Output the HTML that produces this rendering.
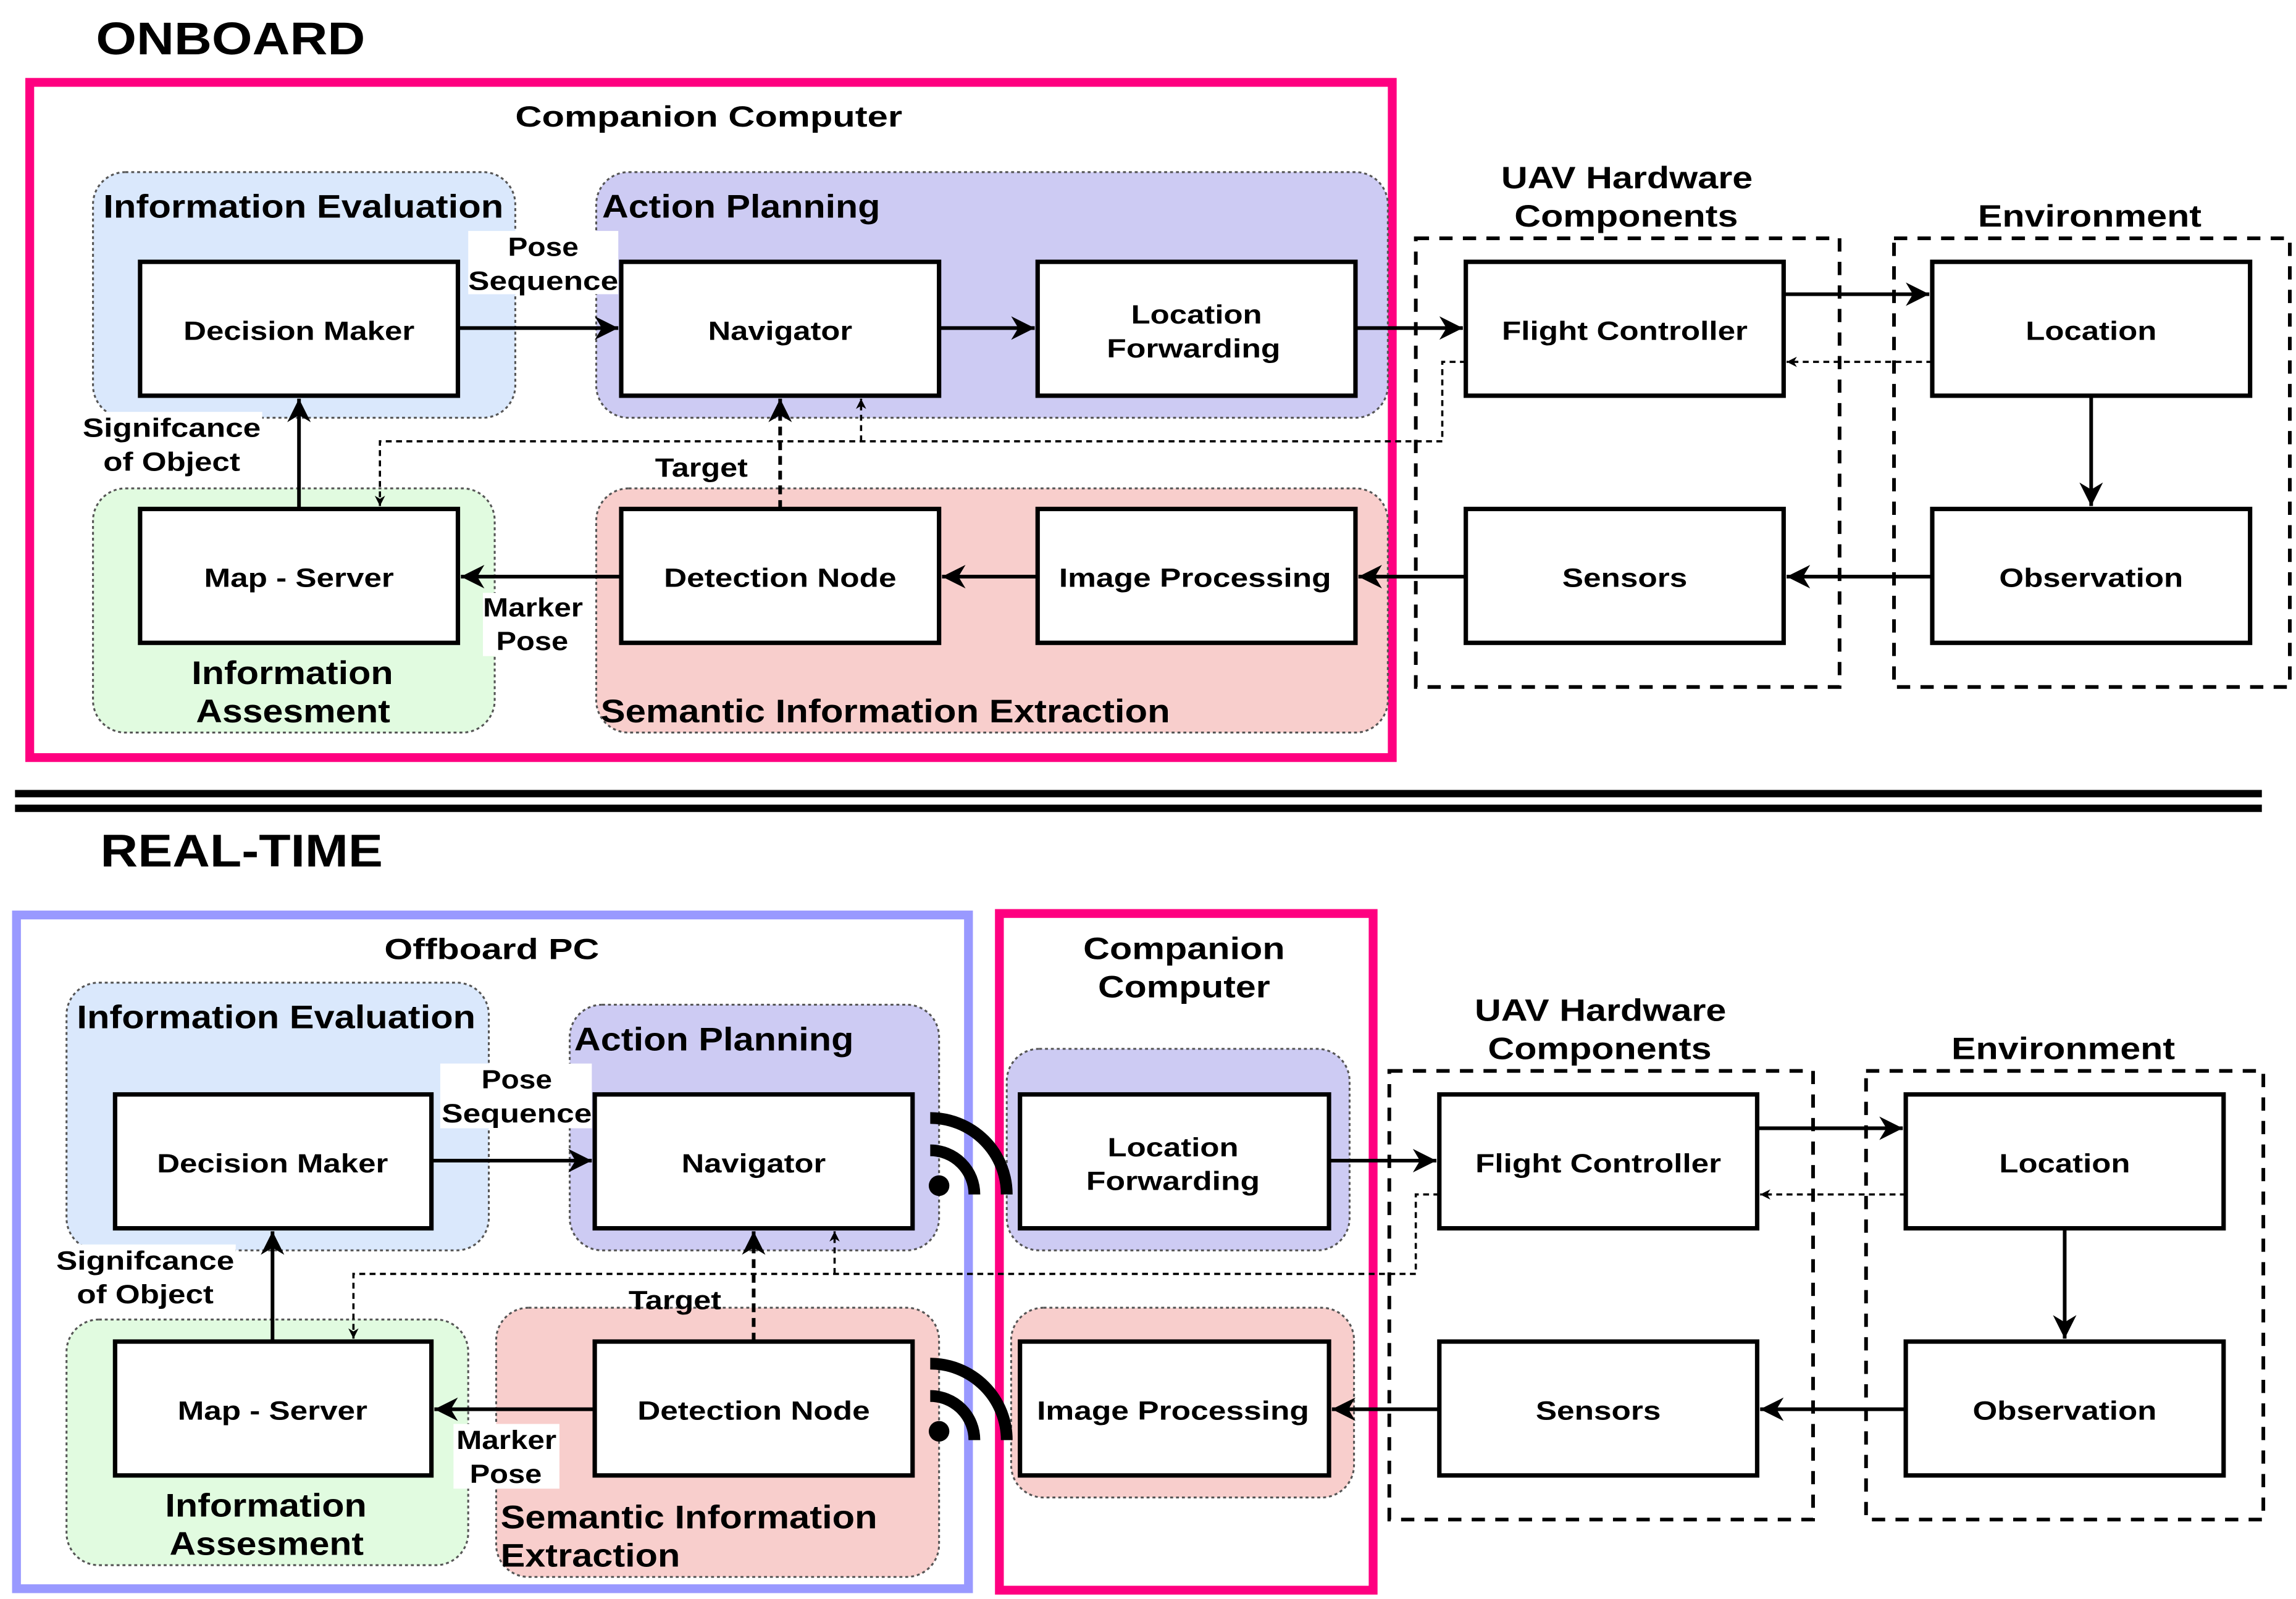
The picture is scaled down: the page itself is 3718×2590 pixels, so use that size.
<!DOCTYPE html>
<html><head><meta charset="utf-8"><style>html,body{margin:0;padding:0;background:#fff}svg{display:block}text{font-family:"Liberation Sans",sans-serif;font-weight:bold;fill:#000}</style></head>
<body>
<svg xmlns="http://www.w3.org/2000/svg" width="3718" height="2590" viewBox="0 0 1560 1087">
<defs>
<marker id="a" viewBox="0 0 10 10" refX="10" refY="5" markerWidth="7" markerHeight="7" orient="auto" markerUnits="userSpaceOnUse"><path d="M0,0 L10,5 L0,10 L3,5 z" fill="#000"/></marker>
<marker id="A" viewBox="0 0 10 10" refX="10" refY="5" markerWidth="16" markerHeight="16" orient="auto" markerUnits="userSpaceOnUse"><path d="M0,0 L10,5 L0,10 L3,5 z" fill="#000"/></marker>
</defs>
<rect width="1560" height="1087" fill="#fff"/>

<!-- ================= ONBOARD ================= -->
<text x="65" y="37" font-size="31" textLength="183" lengthAdjust="spacingAndGlyphs">ONBOARD</text>
<rect x="20" y="56" width="926" height="459" fill="none" stroke="#ff0080" stroke-width="6"/>
<text x="350" y="86" font-size="20" textLength="263" lengthAdjust="spacingAndGlyphs">Companion Computer</text>

<g stroke="#555" stroke-width="1.3" stroke-dasharray="2,2">
<rect x="63" y="117" width="287" height="167" rx="22" fill="#dae8fc"/>
<rect x="405" y="117" width="538" height="167" rx="22" fill="#cdcbf3"/>
<rect x="63" y="332" width="273" height="166" rx="22" fill="#e1fbe0"/>
<rect x="405" y="332" width="538" height="166" rx="22" fill="#f8cecc"/>
</g>
<text x="70" y="148" font-size="22" textLength="272" lengthAdjust="spacingAndGlyphs">Information Evaluation</text>
<text x="409" y="148" font-size="22" textLength="189" lengthAdjust="spacingAndGlyphs">Action Planning</text>
<text x="130" y="465" font-size="22" textLength="137" lengthAdjust="spacingAndGlyphs">Information</text>
<text x="133" y="491" font-size="22" textLength="132" lengthAdjust="spacingAndGlyphs">Assesment</text>
<text x="408" y="491" font-size="22" textLength="387" lengthAdjust="spacingAndGlyphs">Semantic Information Extraction</text>

<g fill="none" stroke="#000" stroke-width="2.5" stroke-dasharray="9,7">
<rect x="962" y="162" width="288" height="305"/>
<rect x="1287" y="162" width="269" height="305"/>
</g>
<text x="1020" y="128" font-size="21" textLength="171" lengthAdjust="spacingAndGlyphs">UAV Hardware</text>
<text x="1029" y="154" font-size="21" textLength="152" lengthAdjust="spacingAndGlyphs">Components</text>
<text x="1344" y="154" font-size="21" textLength="152" lengthAdjust="spacingAndGlyphs">Environment</text>

<g stroke="#000" stroke-width="2.5" fill="none">
<line x1="311" y1="223" x2="420" y2="223" marker-end="url(#A)"/>
<line x1="638" y1="223" x2="703" y2="223" marker-end="url(#A)"/>
<line x1="921" y1="223" x2="994" y2="223" marker-end="url(#A)"/>
<line x1="1212" y1="200" x2="1311" y2="200" marker-end="url(#A)"/>
<line x1="1421" y1="269" x2="1421" y2="344" marker-end="url(#A)"/>
<line x1="1313" y1="392" x2="1214" y2="392" marker-end="url(#A)"/>
<line x1="996" y1="392" x2="923" y2="392" marker-end="url(#A)"/>
<line x1="705" y1="392" x2="640" y2="392" marker-end="url(#A)"/>
<line x1="422" y1="392" x2="313" y2="392" marker-end="url(#A)"/>
<line x1="203" y1="346" x2="203" y2="271" marker-end="url(#A)"/>
<line x1="530" y1="346" x2="530" y2="271" stroke-dasharray="6,4" marker-end="url(#A)"/>
</g>
<g stroke="#000" stroke-width="1.5" fill="none" stroke-dasharray="4,3">
<line x1="1313" y1="246" x2="1214" y2="246" marker-end="url(#a)"/>
<polyline points="996,246 980,246 980,300 258,300 258,344" marker-end="url(#a)"/>
<polyline points="585,300 585,271" marker-end="url(#a)"/>
</g>

<rect x="318" y="157" width="102" height="43" fill="#fff"/>
<rect x="55" y="280" width="123" height="43" fill="#fff"/>
<rect x="328" y="403" width="70" height="43" fill="#fff"/>
<text x="345" y="174" font-size="18" textLength="48" lengthAdjust="spacingAndGlyphs">Pose</text>
<text x="318" y="197" font-size="18" textLength="102" lengthAdjust="spacingAndGlyphs">Sequence</text>
<text x="56" y="297" font-size="18" textLength="121" lengthAdjust="spacingAndGlyphs">Signifcance</text>
<text x="70" y="320" font-size="18" textLength="93" lengthAdjust="spacingAndGlyphs">of Object</text>
<text x="445" y="324" font-size="18" textLength="63" lengthAdjust="spacingAndGlyphs">Target</text>
<text x="328" y="419" font-size="18" textLength="68" lengthAdjust="spacingAndGlyphs">Marker</text>
<text x="337" y="442" font-size="18" textLength="49" lengthAdjust="spacingAndGlyphs">Pose</text>

<g fill="#fff" stroke="#000" stroke-width="3">
<rect x="95" y="178" width="216" height="91"/>
<rect x="422" y="178" width="216" height="91"/>
<rect x="705" y="178" width="216" height="91"/>
<rect x="996" y="178" width="216" height="91"/>
<rect x="1313" y="178" width="216" height="91"/>
<rect x="95" y="346" width="216" height="91"/>
<rect x="422" y="346" width="216" height="91"/>
<rect x="705" y="346" width="216" height="91"/>
<rect x="996" y="346" width="216" height="91"/>
<rect x="1313" y="346" width="216" height="91"/>
</g>
<g font-size="18" text-anchor="middle" lengthAdjust="spacingAndGlyphs">
<text x="203" y="231" textLength="157" lengthAdjust="spacingAndGlyphs">Decision Maker</text>
<text x="530" y="231" textLength="98" lengthAdjust="spacingAndGlyphs">Navigator</text>
<text x="813" y="220" textLength="89" lengthAdjust="spacingAndGlyphs">Location</text>
<text x="811" y="243" textLength="118" lengthAdjust="spacingAndGlyphs">Forwarding</text>
<text x="1104" y="231" textLength="167" lengthAdjust="spacingAndGlyphs">Flight Controller</text>
<text x="1421" y="231" textLength="89" lengthAdjust="spacingAndGlyphs">Location</text>
<text x="203" y="399" textLength="129" lengthAdjust="spacingAndGlyphs">Map - Server</text>
<text x="530" y="399" textLength="158" lengthAdjust="spacingAndGlyphs">Detection Node</text>
<text x="812" y="399" textLength="185" lengthAdjust="spacingAndGlyphs">Image Processing</text>
<text x="1104" y="399" textLength="85" lengthAdjust="spacingAndGlyphs">Sensors</text>
<text x="1421" y="399" textLength="125" lengthAdjust="spacingAndGlyphs">Observation</text>
</g>

<rect x="10" y="537" width="1527" height="5" fill="#000"/>
<rect x="10" y="547" width="1527" height="5" fill="#000"/>

<!-- ================= REAL-TIME ================= -->
<text x="68" y="589" font-size="31" textLength="192" lengthAdjust="spacingAndGlyphs">REAL-TIME</text>
<rect x="11" y="622" width="647" height="458" fill="none" stroke="#9999ff" stroke-width="6"/>
<text x="261" y="652" font-size="20" textLength="146" lengthAdjust="spacingAndGlyphs">Offboard PC</text>

<g stroke="#555" stroke-width="1.3" stroke-dasharray="2,2">
<rect x="45" y="668" width="287" height="182" rx="22" fill="#dae8fc"/>
<rect x="387" y="683" width="251" height="167" rx="22" fill="#cdcbf3"/>
<rect x="45" y="897" width="273" height="167" rx="22" fill="#e1fbe0"/>
<rect x="337" y="889" width="301" height="183" rx="22" fill="#f8cecc"/>
<rect x="684" y="713" width="233" height="137" rx="22" fill="#cdcbf3"/>
<rect x="687" y="889" width="233" height="129" rx="22" fill="#f8cecc"/>
</g>
<rect x="679" y="621" width="254" height="460" fill="none" stroke="#ff0080" stroke-width="6"/>
<text x="736" y="652" font-size="21" textLength="137" lengthAdjust="spacingAndGlyphs">Companion</text>
<text x="746" y="678" font-size="21" textLength="117" lengthAdjust="spacingAndGlyphs">Computer</text>
<text x="52" y="699" font-size="22" textLength="271" lengthAdjust="spacingAndGlyphs">Information Evaluation</text>
<text x="390" y="714" font-size="22" textLength="190" lengthAdjust="spacingAndGlyphs">Action Planning</text>
<text x="112" y="1031" font-size="22" textLength="137" lengthAdjust="spacingAndGlyphs">Information</text>
<text x="115" y="1057" font-size="22" textLength="132" lengthAdjust="spacingAndGlyphs">Assesment</text>
<text x="340" y="1039" font-size="22" textLength="256" lengthAdjust="spacingAndGlyphs">Semantic Information</text>
<text x="340" y="1065" font-size="22" textLength="122" lengthAdjust="spacingAndGlyphs">Extraction</text>

<g fill="none" stroke="#000" stroke-width="2.5" stroke-dasharray="9,7">
<rect x="944" y="728" width="288" height="305"/>
<rect x="1268" y="728" width="270" height="305"/>
</g>
<text x="1002" y="694" font-size="21" textLength="171" lengthAdjust="spacingAndGlyphs">UAV Hardware</text>
<text x="1011" y="720" font-size="21" textLength="152" lengthAdjust="spacingAndGlyphs">Components</text>
<text x="1326" y="720" font-size="21" textLength="152" lengthAdjust="spacingAndGlyphs">Environment</text>

<g stroke="#000" stroke-width="2.5" fill="none">
<line x1="293" y1="789" x2="402" y2="789" marker-end="url(#A)"/>
<line x1="903" y1="789" x2="976" y2="789" marker-end="url(#A)"/>
<line x1="1194" y1="767" x2="1293" y2="767" marker-end="url(#A)"/>
<line x1="1403" y1="835" x2="1403" y2="910" marker-end="url(#A)"/>
<line x1="1295" y1="958" x2="1196" y2="958" marker-end="url(#A)"/>
<line x1="978" y1="958" x2="905" y2="958" marker-end="url(#A)"/>
<line x1="404" y1="958" x2="295" y2="958" marker-end="url(#A)"/>
<line x1="185" y1="912" x2="185" y2="837" marker-end="url(#A)"/>
<line x1="512" y1="912" x2="512" y2="837" stroke-dasharray="6,4" marker-end="url(#A)"/>
</g>
<g stroke="#000" stroke-width="1.5" fill="none" stroke-dasharray="4,3">
<line x1="1295" y1="812" x2="1196" y2="812" marker-end="url(#a)"/>
<polyline points="978,812 962,812 962,866 240,866 240,910" marker-end="url(#a)"/>
<polyline points="567,866 567,837" marker-end="url(#a)"/>
</g>

<rect x="299" y="723" width="103" height="44" fill="#fff"/>
<rect x="38" y="846" width="122" height="44" fill="#fff"/>
<rect x="308" y="968" width="72" height="44" fill="#fff"/>
<text x="327" y="740" font-size="18" textLength="48" lengthAdjust="spacingAndGlyphs">Pose</text>
<text x="300" y="763" font-size="18" textLength="102" lengthAdjust="spacingAndGlyphs">Sequence</text>
<text x="38" y="863" font-size="18" textLength="121" lengthAdjust="spacingAndGlyphs">Signifcance</text>
<text x="52" y="886" font-size="18" textLength="93" lengthAdjust="spacingAndGlyphs">of Object</text>
<text x="427" y="890" font-size="18" textLength="63" lengthAdjust="spacingAndGlyphs">Target</text>
<text x="310" y="985" font-size="18" textLength="68" lengthAdjust="spacingAndGlyphs">Marker</text>
<text x="319" y="1008" font-size="18" textLength="49" lengthAdjust="spacingAndGlyphs">Pose</text>

<g fill="#fff" stroke="#000" stroke-width="3">
<rect x="78" y="744" width="215" height="91"/>
<rect x="404" y="744" width="216" height="91"/>
<rect x="693" y="744" width="210" height="91"/>
<rect x="978" y="744" width="216" height="91"/>
<rect x="1295" y="744" width="216" height="91"/>
<rect x="78" y="912" width="215" height="91"/>
<rect x="404" y="912" width="216" height="91"/>
<rect x="693" y="912" width="210" height="91"/>
<rect x="978" y="912" width="216" height="91"/>
<rect x="1295" y="912" width="216" height="91"/>
</g>
<g font-size="18" text-anchor="middle">
<text x="185" y="797" textLength="157" lengthAdjust="spacingAndGlyphs">Decision Maker</text>
<text x="512" y="797" textLength="98" lengthAdjust="spacingAndGlyphs">Navigator</text>
<text x="797" y="786" textLength="89" lengthAdjust="spacingAndGlyphs">Location</text>
<text x="797" y="809" textLength="118" lengthAdjust="spacingAndGlyphs">Forwarding</text>
<text x="1086" y="797" textLength="167" lengthAdjust="spacingAndGlyphs">Flight Controller</text>
<text x="1403" y="797" textLength="89" lengthAdjust="spacingAndGlyphs">Location</text>
<text x="185" y="965" textLength="129" lengthAdjust="spacingAndGlyphs">Map - Server</text>
<text x="512" y="965" textLength="158" lengthAdjust="spacingAndGlyphs">Detection Node</text>
<text x="797" y="965" textLength="185" lengthAdjust="spacingAndGlyphs">Image Processing</text>
<text x="1086" y="965" textLength="85" lengthAdjust="spacingAndGlyphs">Sensors</text>
<text x="1403" y="965" textLength="125" lengthAdjust="spacingAndGlyphs">Observation</text>
</g>

<g fill="none" stroke="#000" stroke-width="8">
<path d="M632,782 A30,30 0 0 1 662,812"/>
<path d="M632,760 A52,52 0 0 1 684,812"/>
<path d="M632,949 A30,30 0 0 1 662,979"/>
<path d="M632,927 A52,52 0 0 1 684,979"/>
</g>
<circle cx="638" cy="806" r="7" fill="#000"/>
<circle cx="638" cy="973" r="7" fill="#000"/>
</svg>
</body></html>
